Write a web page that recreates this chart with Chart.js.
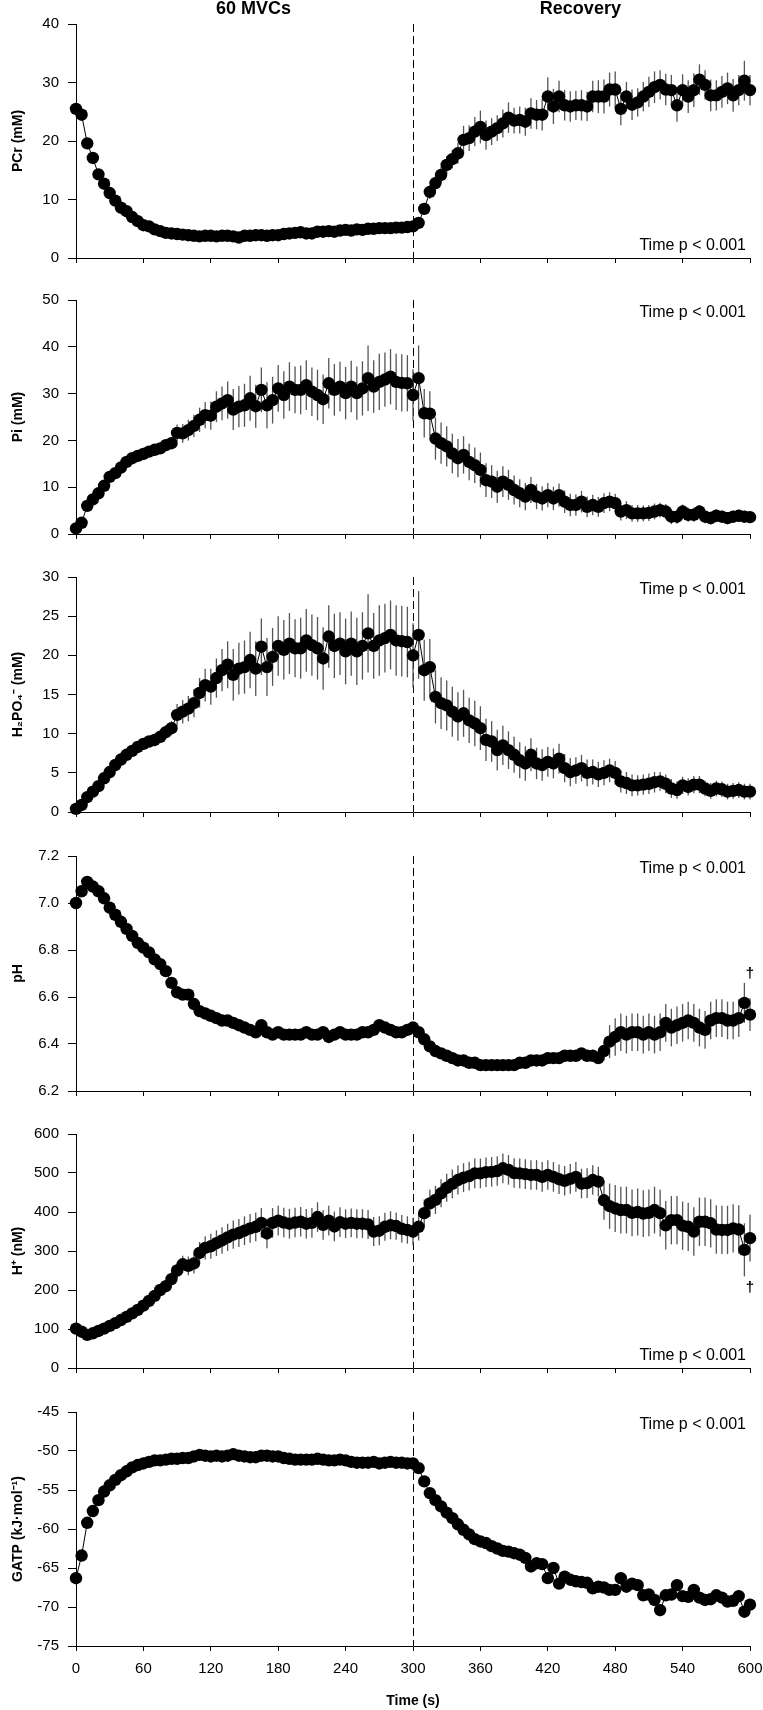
<!DOCTYPE html>
<html>
<head>
<meta charset="utf-8">
<script src="https://cdn.jsdelivr.net/npm/chart.js@4.4.1/dist/chart.umd.min.js"></script>
<style>
  body { margin: 0; background: #fff; }
  #wrap { position: relative; width: 763px; height: 1710px; }
  #wrap canvas { position: absolute; left: 0; }
</style>
</head>
<body>
<div id="wrap"></div>
<script>
// time points (s), one every 5 s: 60 MVCs then recovery
const times = [
  0, 5, 10, 15, 20, 25, 30, 35, 40, 45,
  50, 55, 60, 65, 70, 75, 80, 85, 90, 95,
  100, 105, 110, 115, 120, 125, 130, 135, 140, 145,
  150, 155, 160, 165, 170, 175, 180, 185, 190, 195,
  200, 205, 210, 215, 220, 225, 230, 235, 240, 245,
  250, 255, 260, 265, 270, 275, 280, 285, 290, 295,
  300, 305, 310, 315, 320, 325, 330, 335, 340, 345,
  350, 355, 360, 365, 370, 375, 380, 385, 390, 395,
  400, 405, 410, 415, 420, 425, 430, 435, 440, 445,
  450, 455, 460, 465, 470, 475, 480, 485, 490, 495,
  500, 505, 510, 515, 520, 525, 530, 535, 540, 545,
  550, 555, 560, 565, 570, 575, 580, 585, 590, 595,
  600
];
const xTicks = [0, 60, 120, 180, 240, 300, 360, 420, 480, 540, 600];
const phaseLabels = ['60 MVCs', 'Recovery'];
const phaseCentres = [158, 449];
const phaseSplit = 300;
const statText = 'Time p < 0.001';

const pcr = [
  25.5, 24.5, 19.6, 17.1, 14.3, 12.7, 11.1, 9.8, 8.6, 8.0,
  7.0, 6.3, 5.6, 5.4, 4.9, 4.6, 4.3, 4.2, 4.1, 4.0,
  3.9, 3.8, 3.7, 3.8, 3.8, 3.7, 3.8, 3.8, 3.7, 3.5,
  3.8, 3.8, 3.9, 3.9, 3.8, 3.9, 3.9, 4.1, 4.2, 4.3,
  4.4, 4.2, 4.2, 4.5, 4.5, 4.6, 4.5, 4.7, 4.8, 4.7,
  4.9, 4.8, 5.0, 5.0, 5.1, 5.1, 5.1, 5.2, 5.2, 5.3,
  5.4, 6.0, 8.4, 11.3, 12.8, 14.2, 15.9, 16.9, 17.9, 20.2,
  20.5, 21.6, 22.4, 21.0, 21.6, 22.2, 23.0, 24.0, 23.5, 23.6,
  23.3, 24.7, 24.5, 24.5, 27.6, 25.9, 27.6, 26.1, 25.9, 26.1,
  26.1, 25.9, 27.6, 27.6, 27.6, 28.8, 28.8, 25.5, 27.6, 26.2,
  26.6, 27.6, 28.4, 29.2, 29.6, 28.8, 28.7, 26.1, 28.7, 27.6,
  28.7, 30.5, 29.6, 27.8, 27.8, 28.4, 29.0, 27.8, 28.7, 30.3,
  28.7
];
const pcrErr = [
  0.9, 0.9, 0.9, 0.8, 0.8, 0.8, 0.7, 0.7, 0.6, 0.6,
  0.6, 0.5, 0.5, 0.5, 0.5, 0.4, 0.4, 0.4, 0.4, 0.4,
  0.4, 0.4, 0.4, 0.4, 0.4, 0.4, 0.4, 0.4, 0.4, 0.4,
  0.4, 0.4, 0.4, 0.4, 0.4, 0.4, 0.4, 0.4, 0.4, 0.4,
  0.5, 0.5, 0.5, 0.5, 0.5, 0.5, 0.5, 0.5, 0.5, 0.5,
  0.5, 0.5, 0.5, 0.5, 0.5, 0.5, 0.5, 0.5, 0.5, 0.5,
  0.5, 0.7, 1.0, 1.2, 1.3, 1.4, 1.5, 1.6, 1.8, 2.4,
  2.2, 2.5, 2.8, 2.5, 2.3, 2.2, 2.4, 2.6, 2.2, 2.3,
  2.4, 2.6, 2.5, 2.7, 3.3, 3.0, 2.7, 2.6, 2.6, 2.5,
  2.6, 2.5, 2.7, 2.8, 2.9, 2.9, 3.1, 2.8, 2.5, 2.6,
  2.4, 2.5, 2.6, 2.7, 2.5, 2.7, 2.6, 2.8, 2.7, 2.8,
  2.9, 2.6, 2.5, 2.7, 2.6, 2.7, 2.7, 2.8, 2.6, 3.4,
  2.6
];

const pi = [
  1.2, 2.4, 6.0, 7.4, 8.7, 10.3, 12.2, 13.0, 14.2, 15.4,
  16.2, 16.7, 17.1, 17.6, 18.0, 18.3, 19.0, 19.4, 21.6, 21.5,
  22.2, 23.1, 24.4, 25.4, 25.3, 27.2, 27.9, 28.6, 26.6, 27.2,
  27.5, 29.0, 27.3, 30.8, 27.5, 28.6, 31.1, 29.7, 31.5, 30.8,
  30.8, 31.8, 30.4, 29.7, 28.8, 32.2, 30.8, 31.5, 30.1, 31.5,
  30.1, 31.1, 33.3, 31.5, 32.5, 33.0, 33.6, 32.5, 32.3, 32.2,
  29.7, 33.3, 25.8, 25.7, 20.4, 19.4, 18.7, 17.2, 16.2, 16.9,
  15.4, 14.7, 13.7, 11.5, 11.2, 10.1, 11.2, 10.5, 9.4, 8.7,
  8.0, 9.4, 8.0, 7.6, 8.3, 7.6, 8.3, 6.9, 6.2, 6.2,
  6.9, 5.8, 6.2, 5.8, 6.6, 6.9, 6.6, 4.8, 5.1, 4.4,
  4.4, 4.4, 4.5, 4.8, 5.1, 4.8, 3.7, 3.7, 4.8, 4.1,
  4.1, 4.8, 3.7, 3.4, 3.9, 3.7, 3.4, 3.7, 3.9, 3.7,
  3.6
];
const piErr = [
  0.3, 0.4, 0.5, 0.5, 0.6, 0.6, 0.7, 0.7, 0.8, 0.8,
  0.9, 0.9, 1.0, 1.0, 1.1, 1.1, 1.2, 1.2, 1.8, 2.0,
  2.2, 2.4, 2.6, 2.8, 3.0, 3.3, 3.6, 4.0, 4.4, 4.4,
  4.6, 4.8, 4.6, 4.8, 4.9, 5.0, 5.0, 5.1, 5.2, 5.0,
  5.2, 5.3, 5.2, 5.4, 5.3, 5.4, 5.5, 5.3, 5.6, 5.5,
  5.7, 5.8, 7.0, 5.6, 6.0, 5.8, 5.9, 6.0, 6.1, 6.0,
  5.5, 7.0, 5.2, 4.8, 4.5, 4.4, 4.3, 4.2, 4.1, 4.0,
  3.9, 3.8, 3.7, 3.6, 3.5, 3.4, 3.3, 3.2, 3.1, 3.0,
  2.9, 2.8, 2.7, 2.6, 2.6, 2.5, 2.5, 2.4, 2.4, 2.3,
  2.3, 2.2, 2.2, 2.1, 2.1, 2.0, 2.0, 1.9, 1.9, 1.8,
  1.8, 1.7, 1.7, 1.7, 1.6, 1.6, 1.6, 1.5, 1.5, 1.5,
  1.5, 1.4, 1.4, 1.4, 1.4, 1.3, 1.3, 1.3, 1.3, 1.3,
  1.3
];

const h2po4 = [
  0.4, 0.9, 1.9, 2.6, 3.3, 4.3, 5.1, 6.0, 6.7, 7.3,
  7.8, 8.3, 8.7, 9.0, 9.2, 9.6, 10.2, 10.7, 12.4, 12.8,
  13.2, 13.9, 15.2, 16.2, 16.0, 17.1, 18.1, 18.8, 17.5, 18.3,
  18.5, 19.4, 18.3, 21.1, 18.5, 19.8, 21.2, 20.7, 21.5, 20.9,
  20.9, 21.9, 21.3, 20.9, 19.6, 22.4, 21.2, 21.5, 20.5, 21.5,
  20.5, 21.2, 22.8, 21.2, 21.9, 22.2, 22.6, 21.9, 21.8, 21.7,
  20.0, 22.6, 18.1, 18.5, 14.7, 13.9, 13.6, 12.8, 12.2, 12.6,
  11.7, 11.3, 10.7, 9.2, 9.0, 7.9, 8.5, 7.9, 7.3, 6.6,
  6.2, 7.3, 6.2, 6.0, 6.4, 6.2, 6.8, 5.6, 5.1, 5.3,
  5.6, 5.0, 5.1, 4.8, 5.0, 5.3, 5.0, 3.9, 3.7, 3.4,
  3.4, 3.5, 3.6, 3.8, 3.9, 3.6, 3.0, 2.8, 3.4, 3.2,
  3.5, 3.5, 3.0, 2.7, 3.0, 2.9, 2.6, 2.7, 2.8, 2.6,
  2.6
];
const h2po4Err = [
  0.2, 0.3, 0.3, 0.4, 0.4, 0.4, 0.5, 0.5, 0.6, 0.6,
  0.6, 0.7, 0.7, 0.7, 0.8, 0.8, 0.9, 0.9, 1.4, 1.5,
  1.6, 1.8, 1.9, 2.1, 2.3, 2.5, 2.7, 3.0, 3.3, 3.3,
  3.4, 3.6, 3.5, 3.6, 3.7, 3.7, 3.8, 3.8, 3.9, 3.7,
  3.9, 4.0, 3.9, 4.0, 4.0, 4.0, 4.1, 4.0, 4.2, 4.1,
  4.3, 4.3, 5.0, 4.2, 4.5, 4.4, 4.4, 4.5, 4.5, 4.5,
  4.1, 5.6, 3.9, 3.6, 3.4, 3.3, 3.2, 3.2, 3.1, 3.0,
  2.9, 2.9, 2.8, 2.7, 2.6, 2.6, 2.5, 2.4, 2.3, 2.3,
  2.2, 2.1, 2.0, 2.0, 1.9, 1.9, 1.9, 1.8, 1.8, 1.7,
  1.7, 1.7, 1.6, 1.6, 1.6, 1.5, 1.5, 1.4, 1.4, 1.4,
  1.3, 1.3, 1.3, 1.3, 1.2, 1.2, 1.2, 1.1, 1.1, 1.1,
  1.1, 1.1, 1.0, 1.0, 1.0, 1.0, 1.0, 1.0, 1.0, 1.0,
  1.0
];

const ph = [
  7.00, 7.05, 7.09, 7.07, 7.05, 7.02, 6.98, 6.95, 6.92, 6.89,
  6.86, 6.83, 6.81, 6.79, 6.76, 6.74, 6.71, 6.66, 6.62, 6.61,
  6.61, 6.57, 6.54, 6.53, 6.52, 6.51, 6.50, 6.50, 6.49, 6.48,
  6.47, 6.46, 6.45, 6.48, 6.45, 6.44, 6.45, 6.44, 6.44, 6.44,
  6.44, 6.45, 6.44, 6.44, 6.45, 6.43, 6.44, 6.45, 6.44, 6.44,
  6.44, 6.45, 6.45, 6.46, 6.48, 6.47, 6.46, 6.45, 6.45, 6.46,
  6.47, 6.45, 6.42, 6.39, 6.37, 6.36, 6.35, 6.34, 6.33, 6.33,
  6.32, 6.32, 6.31, 6.31, 6.31, 6.31, 6.31, 6.31, 6.31, 6.32,
  6.32, 6.33, 6.33, 6.33, 6.34, 6.34, 6.34, 6.35, 6.35, 6.35,
  6.36, 6.35, 6.35, 6.34, 6.37, 6.41, 6.43, 6.45, 6.44, 6.45,
  6.45, 6.44, 6.45, 6.44, 6.45, 6.49, 6.47, 6.48, 6.49, 6.50,
  6.49, 6.47, 6.46, 6.50, 6.51, 6.51, 6.50, 6.50, 6.51, 6.575,
  6.525
];
const phErr = [
  0.005, 0.005, 0.005, 0.005, 0.005, 0.005, 0.005, 0.005, 0.005, 0.005,
  0.005, 0.006, 0.006, 0.007, 0.007, 0.008, 0.008, 0.009, 0.010, 0.012,
  0.014, 0.015, 0.016, 0.017, 0.017, 0.018, 0.018, 0.018, 0.018, 0.018,
  0.019, 0.018, 0.020, 0.018, 0.019, 0.018, 0.018, 0.019, 0.018, 0.018,
  0.018, 0.019, 0.018, 0.018, 0.019, 0.018, 0.018, 0.019, 0.018, 0.018,
  0.018, 0.018, 0.019, 0.018, 0.018, 0.018, 0.018, 0.018, 0.018, 0.018,
  0.018, 0.017, 0.016, 0.016, 0.016, 0.016, 0.016, 0.016, 0.016, 0.016,
  0.016, 0.017, 0.017, 0.017, 0.017, 0.017, 0.017, 0.017, 0.017, 0.017,
  0.018, 0.018, 0.018, 0.018, 0.018, 0.018, 0.019, 0.019, 0.020, 0.020,
  0.020, 0.020, 0.021, 0.022, 0.040, 0.070, 0.080, 0.080, 0.080, 0.080,
  0.080, 0.080, 0.080, 0.080, 0.080, 0.080, 0.080, 0.080, 0.080, 0.080,
  0.080, 0.080, 0.080, 0.080, 0.080, 0.080, 0.080, 0.080, 0.080, 0.085,
  0.070
];

const hIon = [
  101, 93, 85, 89, 95, 101, 108, 115, 123, 131,
  140, 149, 160, 172, 185, 200, 210, 228, 250, 266,
  262, 268, 295, 308, 312, 320, 327, 335, 342, 346,
  352, 358, 362, 372, 345, 372, 378, 373, 370, 373,
  375, 370, 372, 387, 367, 378, 363, 374, 370, 372,
  370, 370, 368, 350, 352, 362, 366, 364, 357, 354,
  350, 362, 397, 422, 431, 448, 462, 472, 482, 488,
  492, 499, 499, 502, 503, 505, 512, 508, 500, 499,
  497, 495, 495, 490, 495, 490, 484, 480, 485, 490,
  473, 474, 482, 478, 430, 415, 409, 405, 405, 398,
  400, 396, 398, 405, 397, 366, 379, 379, 365, 362,
  350, 375, 375, 371, 355, 354, 354, 358, 355, 303,
  333
];
const hIonErr = [
  5, 5, 5, 6, 6, 7, 7, 8, 8, 9,
  10, 10, 11, 12, 13, 14, 16, 18, 20, 22,
  24, 26, 28, 30, 32, 33, 34, 35, 36, 36,
  37, 37, 37, 38, 38, 38, 38, 38, 38, 38,
  38, 38, 38, 38, 38, 38, 38, 38, 37, 37,
  37, 37, 37, 37, 37, 36, 36, 35, 35, 35,
  35, 35, 35, 35, 36, 36, 36, 37, 37, 37,
  37, 38, 38, 38, 38, 38, 38, 38, 38, 38,
  38, 38, 38, 38, 38, 38, 38, 38, 38, 38,
  38, 38, 38, 38, 50, 58, 60, 60, 60, 60,
  60, 60, 60, 60, 60, 62, 62, 62, 62, 62,
  62, 62, 62, 62, 62, 62, 62, 62, 62, 68,
  60
];

const gatp = [
  -66.3, -63.4, -59.2, -57.7, -56.3, -55.2, -54.4, -53.7, -53.1, -52.6,
  -52.1, -51.8, -51.6, -51.4, -51.2, -51.2, -51.1, -51.0, -51.0, -50.9,
  -50.9, -50.7, -50.5, -50.6, -50.7, -50.6, -50.7, -50.6, -50.4, -50.6,
  -50.7, -50.8, -50.8, -50.6, -50.6, -50.7, -50.7, -50.9, -51.0, -51.1,
  -51.1, -51.1, -51.1, -51.0, -51.1, -51.2, -51.2, -51.1, -51.2, -51.4,
  -51.5, -51.5, -51.5, -51.4, -51.6, -51.5, -51.4, -51.5, -51.5, -51.6,
  -51.6, -52.2, -53.9, -55.4, -56.3, -57.1, -57.9, -58.6, -59.4, -60.1,
  -60.7, -61.3, -61.6, -61.8, -62.2, -62.5, -62.8, -62.9, -63.1, -63.3,
  -63.7, -64.8, -64.4, -64.5, -66.3, -65.0, -67.0, -66.1, -66.5, -66.7,
  -66.8, -66.9, -67.6, -67.4, -67.5, -67.8, -67.8, -66.3, -67.4, -67.0,
  -67.2, -68.5, -68.4, -69.1, -70.4, -68.5, -68.4, -67.2, -68.6, -68.7,
  -67.8, -68.8, -69.1, -69.0, -68.5, -68.8, -69.3, -69.2, -68.6, -70.6,
  -69.7
];
const gatpErr = [
  0.8, 0.7, 0.6, 0.5, 0.4, 0.4, 0.3, 0.3, 0.3, 0.3,
  0.3, 0.3, 0.3, 0.3, 0.3, 0.3, 0.3, 0.3, 0.3, 0.3,
  0.3, 0.3, 0.3, 0.3, 0.3, 0.3, 0.3, 0.3, 0.3, 0.3,
  0.3, 0.3, 0.3, 0.3, 0.3, 0.3, 0.3, 0.3, 0.3, 0.3,
  0.3, 0.3, 0.3, 0.3, 0.3, 0.3, 0.3, 0.3, 0.3, 0.3,
  0.3, 0.3, 0.3, 0.3, 0.3, 0.3, 0.3, 0.3, 0.3, 0.3,
  0.3, 0.4, 0.4, 0.4, 0.5, 0.5, 0.5, 0.5, 0.5, 0.5,
  0.6, 0.6, 0.6, 0.6, 0.6, 0.6, 0.6, 0.6, 0.6, 0.6,
  0.6, 0.7, 0.7, 0.7, 0.7, 0.7, 0.7, 0.7, 0.7, 0.7,
  0.7, 0.7, 0.7, 0.7, 0.7, 0.7, 0.7, 0.8, 0.7, 0.7,
  0.7, 0.7, 0.7, 0.7, 0.8, 0.7, 0.7, 0.8, 0.7, 0.7,
  0.7, 0.7, 0.7, 0.7, 0.7, 0.7, 0.7, 0.7, 0.8, 0.8,
  0.7
];

const FONT = "'Liberation Sans', Arial, Helvetica, sans-serif";
Chart.defaults.font.family = FONT;
Chart.defaults.color = '#000';

// panel layout (page pixels of each plot area)
const panels = [
  { title: 'PCr (mM)', values: pcr, errors: pcrErr, min: 0, max: 40, step: 10, top: 24, bottom: 258, note: 'bottom', header: true },
  { title: 'Pi (mM)', values: pi, errors: piErr, min: 0, max: 50, step: 10, top: 300, bottom: 534, note: 'top' },
  { title: 'H\u2082PO\u2084\u207B (mM)', values: h2po4, errors: h2po4Err, min: 0, max: 30, step: 5, top: 577, bottom: 812, note: 'top' },
  { title: 'pH', values: ph, errors: phErr, min: 6.2, max: 7.2, step: 0.2, top: 856, bottom: 1091, note: 'top', dagger: 6.70, fixed: 1 },
  { title: 'H\u207A (nM)', values: hIon, errors: hIonErr, min: 0, max: 600, step: 100, top: 1134, bottom: 1368, note: 'bottom', dagger: 205 },
  { title: 'GATP (kJ\u00B7mol\u207B\u00B9)', values: gatp, errors: gatpErr, min: -75, max: -45, step: 5, top: 1412, bottom: 1646, note: 'top', last: true }
];

const panelDecor = {
  id: 'panelDecor',
  beforeDatasetsDraw(chart, args, opts) {
    const { ctx, chartArea: a, scales: { x, y } } = chart;
    const xs = Math.round(x.getPixelForValue(phaseSplit)) + 0.5;
    ctx.save();
    ctx.strokeStyle = '#000';
    ctx.lineWidth = 1;
    ctx.setLineDash([8, 4]);
    ctx.beginPath();
    ctx.moveTo(xs, a.top);
    ctx.lineTo(xs, a.bottom);
    ctx.stroke();
    ctx.restore();

    // SD bars
    const ds = chart.data.datasets[0];
    ctx.save();
    ctx.strokeStyle = '#555';
    ctx.lineWidth = 1.3;
    ds.data.forEach((p, i) => {
      const e = ds.errors[i];
      const px = x.getPixelForValue(p.x);
      ctx.beginPath();
      ctx.moveTo(px, y.getPixelForValue(p.y - e));
      ctx.lineTo(px, y.getPixelForValue(p.y + e));
      ctx.stroke();
    });
    ctx.restore();
  },
  afterDraw(chart, args, opts) {
    const { ctx, chartArea: a, scales: { x, y } } = chart;
    ctx.save();
    ctx.fillStyle = '#000';
    ctx.font = '16px ' + FONT;
    ctx.textAlign = 'right';
    ctx.textBaseline = 'middle';
    const ny = opts.note === 'top' ? a.top + 13 : a.bottom - 12;
    ctx.fillText(statText, a.right - 4, ny);

    if (opts.header) {
      ctx.font = 'bold 18px ' + FONT;
      ctx.textAlign = 'center';
      phaseLabels.forEach((lab, i) => {
        ctx.fillText(lab, x.getPixelForValue(phaseCentres[i]), a.top - 15);
      });
    }
    if (opts.dagger !== undefined) {
      ctx.font = 'bold 15px ' + FONT;
      ctx.textAlign = 'center';
      ctx.fillText('\u2020', x.getPixelForValue(600), y.getPixelForValue(opts.dagger));
    }
    ctx.restore();
  }
};

const wrap = document.getElementById('wrap');

panels.forEach((p, idx) => {
  const canvasTop = p.top - 24;
  const plotH = p.bottom - p.top;
  const height = p.last ? 1710 - canvasTop : plotH + 36;
  const xHeight = p.last ? 1710 - p.bottom : 8;
  const cv = document.createElement('canvas');
  cv.width = 763;
  cv.height = height;
  cv.style.top = canvasTop + 'px';
  cv.style.width = '763px';
  cv.style.height = height + 'px';
  wrap.appendChild(cv);

  new Chart(cv, {
    type: 'line',
    data: {
      datasets: [{
        data: times.map((t, i) => ({ x: t, y: p.values[i] })),
        errors: p.errors,
        borderColor: '#000',
        borderWidth: 1,
        pointRadius: 6.2,
        pointBackgroundColor: '#000',
        pointBorderColor: '#000',
        pointBorderWidth: 0,
        tension: 0,
        clip: false
      }]
    },
    options: {
      responsive: false,
      animation: false,
      devicePixelRatio: 1,
      layout: { padding: { top: 24, left: 0, right: 13, bottom: p.last ? 0 : 4 } },
      plugins: {
        legend: { display: false },
        tooltip: { enabled: false },
        panelDecor: { note: p.note, header: !!p.header, dagger: p.dagger }
      },
      scales: {
        x: {
          type: 'linear',
          min: 0,
          max: 600,
          afterBuildTicks: s => { s.ticks = xTicks.map(v => ({ value: v })); },
          afterFit: s => { s.height = xHeight; s.paddingLeft = 0; s.paddingRight = 0; },
          ticks: { display: !!p.last, font: { size: 15 }, padding: 9, maxRotation: 0, autoSkip: false },
          grid: { drawOnChartArea: false, drawTicks: true, tickLength: 5, color: '#000', lineWidth: 1 },
          border: { color: '#000', width: 1 },
          title: { display: !!p.last, text: 'Time (s)', font: { size: 14, weight: 'bold' }, padding: { top: 0, bottom: 0 } }
        },
        y: {
          min: p.min,
          max: p.max,
          afterFit: s => { s.width = 76; s.paddingTop = 0; s.paddingBottom = 0; },
          ticks: {
            stepSize: p.step,
            font: { size: 15 },
            padding: 9,
            callback: v => p.fixed ? Number(v).toFixed(p.fixed) : v
          },
          grid: { drawOnChartArea: false, drawTicks: true, tickLength: 8, color: '#000', lineWidth: 1 },
          border: { color: '#000', width: 1 },
          title: { display: true, text: p.title, font: { size: 14, weight: 'bold' }, padding: { top: 10, bottom: 0 } }
        }
      }
    },
    plugins: [panelDecor]
  });
});
</script>
</body>
</html>
